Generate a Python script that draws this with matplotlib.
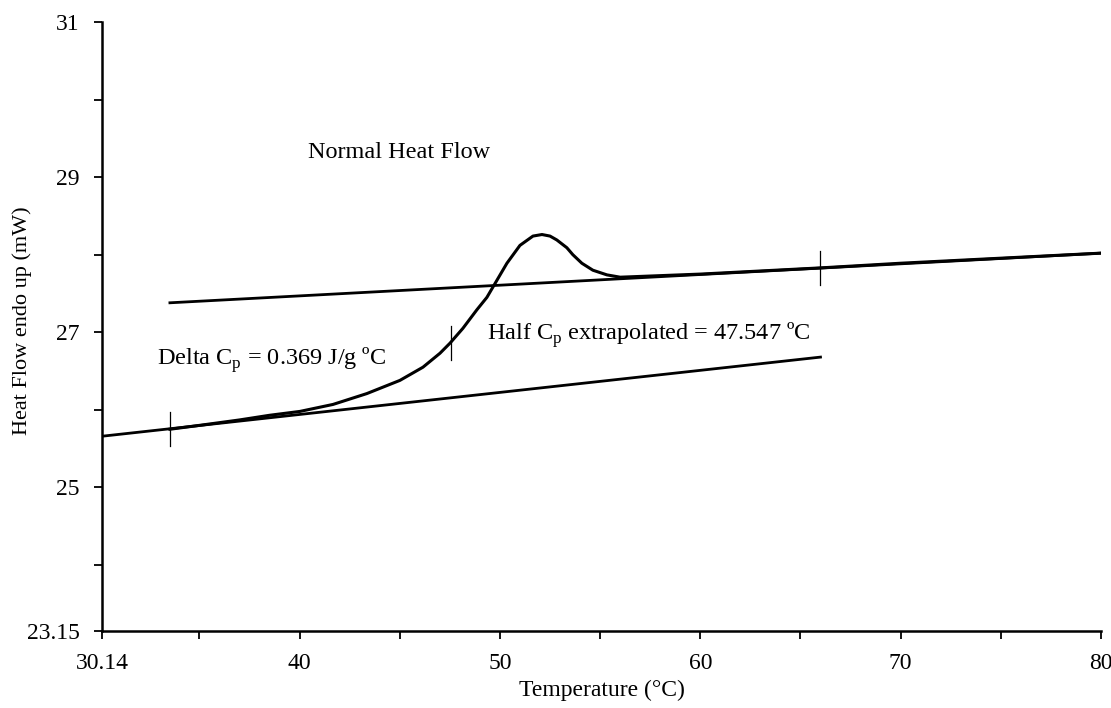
import numpy as np
import matplotlib.pyplot as plt
from matplotlib.ticker import FixedLocator

plt.rcParams['font.family'] = ['Liberation Serif', 'DejaVu Serif']
plt.rcParams['mathtext.fontset'] = 'custom'
plt.rcParams['mathtext.rm'] = 'Liberation Serif'

# DSC trace (temperature in C, heat flow in mW)
curve_t = [33.53, 35.0, 37.0, 38.5, 40.02, 41.67, 43.36, 45.01, 46.16, 47.01, 47.51,
           48.15, 48.85, 49.35, 49.85, 50.35, 51.00, 51.65, 52.10, 52.50, 52.84, 53.34,
           53.64, 54.09, 54.64, 55.34, 56.0, 60.0, 66.0, 70.0, 80.0]
curve_hf = [25.75, 25.80, 25.87, 25.93, 25.98, 26.07, 26.21, 26.38, 26.55, 26.73, 26.86,
            27.05, 27.29, 27.45, 27.67, 27.89, 28.12, 28.24, 28.26, 28.24, 28.19, 28.09,
            28.00, 27.89, 27.80, 27.74, 27.71, 27.75, 27.83, 27.89, 28.02]

# extrapolated baselines
upper_t = [33.53, 80.0]
upper_hf = [27.38, 28.02]
lower_t = [30.14, 66.0]
lower_hf = [25.66, 26.68]

# marker crosses (onset, half Cp, end)
mark_t = [33.53, 47.55, 66.0]
mark_hf = [25.75, 26.86, 27.83]

xticks = [30.14, 40, 50, 60, 70, 80]
yticks = [23.15, 25, 27, 29, 31]

fig = plt.figure(figsize=(11.11, 7.08), dpi=100)
ax = fig.add_axes([0.0918, 0.1088, 0.8992, 0.8602])

ax.plot(upper_t, upper_hf, color='black', lw=2.0)
ax.plot(lower_t, lower_hf, color='black', lw=2.0)
ax.plot(curve_t, curve_hf, color='black', lw=2.2, solid_joinstyle='round')
for t, h in zip(mark_t, mark_hf):
    ax.plot([t, t], [h - 0.22, h + 0.22], color='black', lw=0.9)

ax.text(40.42, 29.32, 'Normal Heat Flow', fontsize=17.5, va='center', ha='left')
ax.text(32.88, 26.64, r'Delta C$_\mathregular{p}$ = 0.369 J/g ºC', fontsize=17.5, va='center', ha='left')
ax.text(49.35, 26.96, r'Half C$_\mathregular{p}$ extrapolated = 47.547 ºC', fontsize=17.5, va='center', ha='left')

ax.set_xlim(30.14, 80)
ax.set_ylim(23.15, 31)
ax.set_xticks(xticks)
ax.set_xticklabels(['30.14', '40', '50', '60', '70', '80'])
ax.set_yticks(yticks)
ax.set_yticklabels(['23.15', '25', '27', '29', '31'])
ax.xaxis.set_minor_locator(FixedLocator([35, 45, 55, 65, 75]))
ax.yaxis.set_minor_locator(FixedLocator([24, 26, 28, 30]))
ax.tick_params(which='both', direction='out', length=6, width=1.3, labelsize=17, pad=10)

for s in ['top', 'right']:
    ax.spines[s].set_visible(False)
for s in ['left', 'bottom']:
    ax.spines[s].set_linewidth(1.8)

ax.set_xlabel('Temperature (°C)', fontsize=17, va='center')
ax.xaxis.set_label_coords(0.5, -0.097)
ax.set_ylabel('Heat Flow endo up (mW)', fontsize=16, va='center')
ax.yaxis.set_label_coords(-0.080, 0.51)

fig.savefig('out.png', dpi=100)
